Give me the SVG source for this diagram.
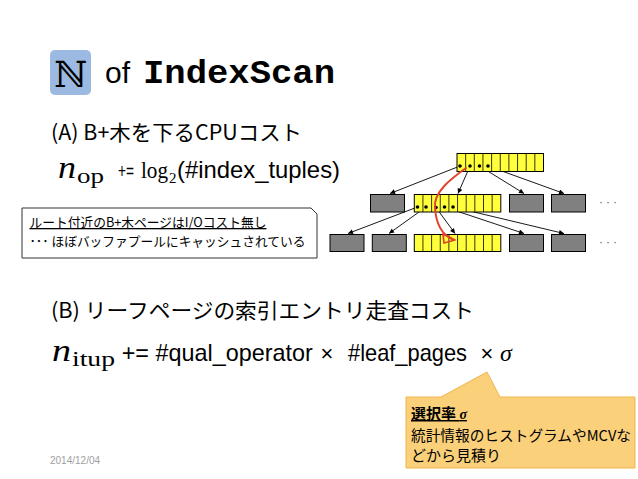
<svg xmlns="http://www.w3.org/2000/svg" width="638" height="479" viewBox="0 0 638 479">
<style>
.sans{font-family:"Liberation Sans","Noto Sans CJK JP",sans-serif;fill:#000}
.jp{font-family:"Noto Sans CJK JP","Liberation Sans",sans-serif;fill:#000}
.math{font-family:"Liberation Serif",serif;fill:#000}
.ylw{fill:#ffff3c;stroke:#000;stroke-width:1}
.gry{fill:#808080;stroke:#000;stroke-width:1}
.cell{stroke:#000;stroke-width:0.8;fill:none}
.ptr{fill:#000}
.edge{stroke:#000;stroke-width:0.9;fill:none;marker-end:url(#ah)}
.more{font-family:"Liberation Sans",sans-serif;font-size:12px;fill:#666}
</style>
<defs>
<marker id="ah" viewBox="0 0 10 10" refX="10" refY="5" markerUnits="userSpaceOnUse" markerWidth="6" markerHeight="5" orient="auto">
<path d="M0,0 L10,5 L0,10 Z" fill="#000"/>
</marker>
</defs>
<rect width="638" height="479" fill="#fff"/>

<g id="title">
<rect x="50" y="50" width="41" height="45" rx="5" fill="#9cb9e2"/>
<text x="70.5" y="86.5" text-anchor="middle" font-family="DejaVu Serif,DejaVu Sans,serif" font-size="36">ℕ</text>
<text class="sans" x="105" y="83" font-size="30">of</text>
<text x="143" y="83" font-family="Liberation Mono,monospace" font-weight="bold" font-size="33" textLength="192" lengthAdjust="spacingAndGlyphs">IndexScan</text>
</g>

<g id="sectionA">
<text class="jp" x="51" y="140" font-size="21" textLength="251" lengthAdjust="spacingAndGlyphs">(A) B+木を下るCPUコスト</text>
<text class="math" x="58" y="178" font-size="32" font-style="italic" textLength="18" lengthAdjust="spacingAndGlyphs">n</text>
<text class="math" x="77" y="183" font-size="20" textLength="27" lengthAdjust="spacingAndGlyphs">op</text>
<text class="sans" x="118" y="178" font-size="21" textLength="16" lengthAdjust="spacingAndGlyphs">+=</text>
<text class="math" x="141" y="178" font-size="23" textLength="27" lengthAdjust="spacingAndGlyphs">log</text>
<text class="math" x="169" y="183" font-size="15">2</text>
<text class="sans" x="177" y="178" font-size="24" textLength="163" lengthAdjust="spacingAndGlyphs">(#index_tuples)</text>
</g>

<g id="connectors">
<line class="edge" x1="460" y1="166" x2="390" y2="193.5"/>
<line class="edge" x1="470" y1="166" x2="458" y2="193.5"/>
<line class="edge" x1="479.5" y1="166" x2="524" y2="193.5"/>
<line class="edge" x1="488" y1="166" x2="564" y2="193.5"/>
<line class="edge" x1="417.5" y1="207" x2="348" y2="233.5"/>
<line class="edge" x1="426" y1="207" x2="389" y2="233.5"/>
<line class="edge" x1="436" y1="207.5" x2="455" y2="233.5"/>
<line class="edge" x1="444.5" y1="207" x2="524" y2="233.5"/>
<line class="edge" x1="453" y1="207" x2="564" y2="233.5"/>
</g>

<g id="root">
<rect class="ylw" x="457" y="153.5" width="86.5" height="18"/>
<path class="cell" d="M465.65,153.5V171.5M474.3,153.5V171.5M482.95,153.5V171.5M491.6,153.5V171.5M500.25,153.5V171.5M508.9,153.5V171.5M517.55,153.5V171.5M526.2,153.5V171.5M534.85,153.5V171.5"/>
<circle class="ptr" cx="460" cy="166" r="1.8"/>
<circle class="ptr" cx="470" cy="166" r="1.8"/>
<circle class="ptr" cx="479.5" cy="166" r="1.8"/>
<circle class="ptr" cx="488" cy="166" r="1.8"/>
</g>

<g id="mid-gray-1"><rect class="gry" x="370.5" y="194.5" width="34" height="17.5"/></g>
<g id="mid-yellow">
<rect class="ylw" x="414.3" y="194.5" width="86.5" height="17.5"/>
<path class="cell" d="M422.95,194.5V212M431.6,194.5V212M440.25,194.5V212M448.9,194.5V212M457.55,194.5V212M466.2,194.5V212M474.85,194.5V212M483.5,194.5V212M492.15,194.5V212"/>
<circle class="ptr" cx="417.5" cy="207" r="1.8"/>
<circle class="ptr" cx="426" cy="207" r="1.8"/>
<circle class="ptr" cx="436" cy="207.5" r="1.8"/>
<circle class="ptr" cx="444.5" cy="207" r="1.8"/>
<circle class="ptr" cx="453" cy="207" r="1.8"/>
</g>
<g id="mid-gray-2"><rect class="gry" x="509.5" y="194.5" width="34" height="17.5"/></g>
<g id="mid-gray-3"><rect class="gry" x="551.5" y="194.5" width="34" height="17.5"/></g>
<g id="mid-more"><text class="more" x="599" y="206" letter-spacing="3">···</text></g>

<g id="leaf-gray-1"><rect class="gry" x="330" y="234.5" width="34" height="17"/></g>
<g id="leaf-gray-2"><rect class="gry" x="372.3" y="234.5" width="34" height="17"/></g>
<g id="leaf-yellow">
<rect class="ylw" x="414.3" y="234.5" width="86.5" height="17"/>
<path class="cell" d="M422.95,234.5V251.5M431.6,234.5V251.5M440.25,234.5V251.5M448.9,234.5V251.5M457.55,234.5V251.5M466.2,234.5V251.5M474.85,234.5V251.5M483.5,234.5V251.5M492.15,234.5V251.5"/>
</g>
<g id="leaf-gray-3"><rect class="gry" x="509.5" y="234.5" width="34" height="17"/></g>
<g id="leaf-gray-4"><rect class="gry" x="551.5" y="234.5" width="34" height="17"/></g>
<g id="leaf-more"><text class="more" x="599" y="246" letter-spacing="3">···</text></g>

<g id="search-path">
<path d="M466,168 C452,178 433,192 435,208 C436,222 441,234 452,239" fill="none" stroke="#e2412b" stroke-width="2" stroke-linecap="round"/>
<path d="M443,234 L455,240 L444,243 Z" fill="none" stroke="#e2412b" stroke-width="1.8" stroke-linejoin="round"/>
</g>

<g id="note-cache">
<path d="M22,208 H311 L317,214 V258 H22 Z" fill="#fff" stroke="#333" stroke-width="1"/>
<text class="jp" x="29.5" y="227" font-size="13" text-decoration="underline" textLength="237" lengthAdjust="spacingAndGlyphs">ルート付近のB+木ページはI/Oコスト無し</text>
<text class="jp" x="29.5" y="246" font-size="13" textLength="276" lengthAdjust="spacingAndGlyphs">･･･ ほぼバッファプールにキャッシュされている</text>
</g>

<g id="sectionB">
<text class="jp" x="51" y="318" font-size="21" textLength="423" lengthAdjust="spacingAndGlyphs">(B) リーフページの索引エントリ走査コスト</text>
<text class="math" x="52" y="361" font-size="32" font-style="italic" textLength="19" lengthAdjust="spacingAndGlyphs">n</text>
<text class="math" x="72" y="366" font-size="20" textLength="43" lengthAdjust="spacingAndGlyphs">itup</text>
<text class="sans" x="121.7" y="361" font-size="24" textLength="191" lengthAdjust="spacingAndGlyphs">+= #qual_operator</text>
<text class="sans" x="320.5" y="361" font-size="22">×</text>
<text class="sans" x="348" y="361" font-size="24" textLength="119" lengthAdjust="spacingAndGlyphs">#leaf_pages</text>
<text class="sans" x="480.5" y="361" font-size="22">×</text>
<text class="math" x="500" y="361" font-size="24" font-style="italic">σ</text>
</g>

<g id="note-selectivity">
<path d="M406,397 H441 L487,372 L500,397 H635 V468 H406 Z" fill="#fad07a" stroke="#f0b54c" stroke-width="1"/>
<text class="jp" x="411" y="419" font-size="15" font-weight="bold" text-decoration="underline">選択率 <tspan class="math" font-style="italic" font-size="14">σ</tspan></text>
<text class="jp" x="411" y="441" font-size="15" textLength="220" lengthAdjust="spacingAndGlyphs">統計情報のヒストグラムやMCVな</text>
<text class="jp" x="411" y="461" font-size="15">どから見積り</text>
</g>

<g id="footer">
<text class="sans" x="50" y="464" font-size="10" style="fill:#a0a0a0">2014/12/04</text>
</g>
</svg>
